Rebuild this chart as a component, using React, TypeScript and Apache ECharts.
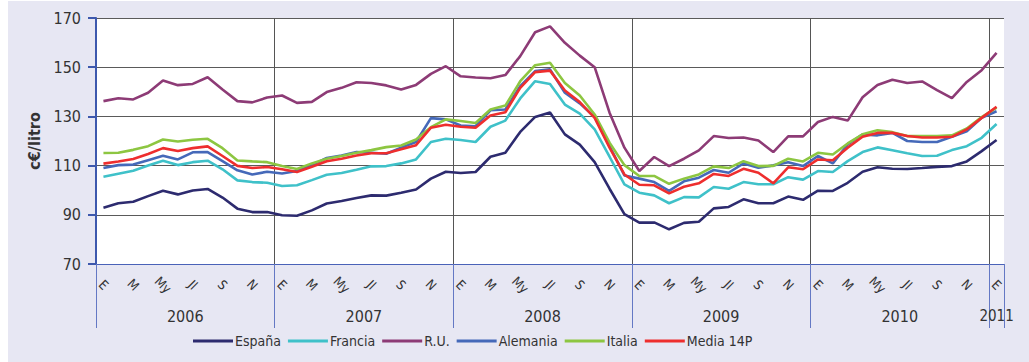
import React, { useEffect, useRef } from "react";
import * as echarts from "echarts";

const years = ["2006", "2007", "2008", "2009", "2010", "2011"];
const monthCodes = ["E", "F", "M", "A", "My", "Jn", "Jl", "Ag", "S", "O", "N", "D"];
const yTicks = { min: 70, max: 170, interval: 20 };

const espana = [
  92.9, 94.7, 95.3, 97.6, 99.8, 98.3, 99.9, 100.5, 97.0, 92.5, 91.1, 91.1,
  89.8, 89.6, 91.8, 94.6, 95.6, 96.8, 97.9, 97.8, 99.0, 100.3, 104.7, 107.5,
  107.0, 107.4, 113.6, 115.2, 123.7, 129.8, 131.6, 122.7, 118.5, 111.4, 100.6, 90.3,
  86.8, 86.9, 84.1, 86.7, 87.2, 92.6, 93.2, 96.3, 94.7, 94.7, 97.4, 96.1,
  99.8, 99.7, 103.0, 107.5, 109.3, 108.7, 108.6, 109.0, 109.5, 109.8, 111.7, 115.9, 120.4,
];
const francia = [
  105.5, 106.7, 107.9, 110.0, 112.0, 110.2, 111.4, 112.0, 108.5, 104.0, 103.3, 103.0,
  101.7, 102.0, 104.1, 106.3, 107.0, 108.3, 109.7, 109.8, 110.9, 112.5, 119.6, 120.9,
  120.4, 119.6, 125.8, 128.3, 137.3, 144.3, 143.2, 134.8, 131.1, 124.7, 113.6, 102.4,
  99.0, 97.9, 94.7, 97.2, 97.1, 101.3, 100.6, 103.3, 102.4, 102.4, 105.3, 104.3,
  107.8, 107.4, 111.8, 115.5, 117.4, 116.2, 115.0, 113.9, 114.0, 116.3, 117.9, 121.3, 126.9,
];
const reinoUnido = [
  136.2, 137.4, 136.9, 139.6, 144.6, 142.7, 143.2, 145.9, 140.9, 136.2, 135.7, 137.7,
  138.5, 135.5, 135.9, 139.9, 141.6, 143.9, 143.6, 142.6, 140.9, 142.8, 147.3, 150.4,
  146.3, 145.8, 145.5, 146.8, 154.5, 164.2, 166.6, 159.9, 154.7, 150.0, 131.5, 117.3,
  107.8, 113.5, 109.8, 112.8, 116.2, 122.0, 121.2, 121.4, 120.2, 115.5, 121.9, 121.9,
  127.7, 129.8, 128.3, 137.8, 142.8, 144.9, 143.6, 144.2, 140.7, 137.4, 144.0, 148.8, 155.8,
];
const alemania = [
  109.0, 110.2, 110.4, 112.2, 114.0, 112.5, 115.4, 115.5, 111.8, 108.1, 106.4, 107.5,
  106.8, 107.8, 110.2, 113.1, 114.1, 115.5, 115.2, 114.8, 117.3, 119.6, 129.3, 128.8,
  126.3, 126.0, 132.5, 132.8, 142.3, 148.4, 149.1, 139.6, 135.3, 129.7, 117.9, 106.0,
  104.7, 103.3, 99.7, 103.6, 105.1, 108.2, 107.1, 110.9, 109.1, 110.1, 111.4, 109.8,
  113.9, 110.9, 118.6, 122.7, 122.3, 123.3, 120.0, 119.6, 119.6, 121.7, 124.0, 129.4, 132.1,
];
const italia = [
  115.1, 115.2, 116.4, 117.9, 120.6, 119.8, 120.5, 120.9, 117.1, 112.1, 111.7, 111.4,
  109.8, 108.6, 110.9, 112.8, 113.9, 115.2, 116.3, 117.5, 118.2, 120.6, 125.6, 128.8,
  128.1, 127.3, 132.8, 134.4, 144.3, 150.8, 151.8, 143.6, 138.5, 130.8, 119.3, 110.2,
  105.8, 105.8, 102.6, 104.7, 106.4, 109.7, 109.0, 111.8, 109.8, 109.9, 112.8, 111.7,
  115.2, 114.5, 119.0, 122.7, 124.4, 123.6, 122.0, 122.0, 122.0, 122.3, 125.1, 129.7, 133.6,
];
const media14P = [
  110.8, 111.7, 112.7, 114.7, 117.1, 115.9, 117.1, 117.8, 113.9, 109.9, 109.0, 109.4,
  108.5, 107.4, 109.5, 111.8, 112.8, 114.1, 115.0, 115.0, 116.6, 118.3, 125.4, 126.6,
  125.8, 125.4, 130.4, 131.7, 141.6, 148.0, 148.6, 140.5, 135.8, 129.4, 117.3, 106.4,
  102.2, 102.0, 98.7, 101.4, 102.8, 106.6, 105.8, 108.7, 107.1, 102.8, 109.3, 108.5,
  112.5, 112.2, 117.3, 121.7, 123.3, 123.3, 122.0, 121.4, 121.4, 121.7, 124.7, 129.4, 133.9,
];

const seriesNames = ["España", "Francia", "R.U.", "Alemania", "Italia", "Media 14P"];
const seriesColors = ["#2d2b6f", "#3fc1c9", "#8d3b76", "#4569b9", "#8dc641", "#ee2e2e"];
const seriesData = [espana, francia, reinoUnido, alemania, italia, media14P];

const categories: string[] = [];
years.forEach((y) => {
  monthCodes.forEach((m) => {
    if (categories.length < espana.length) categories.push(m + "|" + y);
  });
});

const FONT = '"Liberation Sans Narrow", "DejaVu Sans Condensed", "Roboto Condensed", "Open Sans", sans-serif';
const TXT = "#333";
const BLUE = "#3d58ad";

export default function App() {
  const ref = useRef<HTMLDivElement>(null);
  useEffect(() => {
    if (!ref.current) return;
    const chart = echarts.init(ref.current, null, { renderer: "svg" });
    const yearBoundary = (i: number) => i % 12 === 0;
    chart.setOption({
      animation: false,
      backgroundColor: "#e7e7f3",
      textStyle: { fontFamily: FONT },
      grid: {
        left: 88,
        right: 25,
        top: 17,
        bottom: 98,
        show: true,
        backgroundColor: "#ffffff",
        borderWidth: 0,
      },
      legend: {
        left: 180,
        bottom: 9,
        icon: "rect",
        itemWidth: 40,
        itemHeight: 3,
        itemGap: 7,
        textStyle: { fontFamily: FONT, fontSize: 14, color: TXT, padding: [0, 0, 0, -3] },
        data: seriesNames,
      },
      xAxis: [
        {
          type: "category",
          position: "bottom",
          data: categories,
          boundaryGap: true,
          axisLine: { show: true, lineStyle: { color: "#4a62b8", width: 1 } },
          axisTick: {
            show: true,
            interval: yearBoundary,
            length: 64,
            lineStyle: { color: "#6478c4", width: 1 },
          },
          splitLine: {
            show: true,
            interval: yearBoundary,
            showMinLine: false,
            showMaxLine: false,
            lineStyle: { color: "#555", width: 1 },
          },
          axisLabel: {
            interval: 1,
            rotate: -45,
            align: "center",
            verticalAlign: "middle",
            margin: 21,
            fontSize: 13,
            color: TXT,
            fontFamily: FONT,
            formatter: (v: string) => v.split("|")[0],
          },
        },
        {
          type: "category",
          position: "bottom",
          data: categories,
          boundaryGap: true,
          axisLine: { show: false },
          axisTick: { show: false },
          splitLine: { show: false },
          axisLabel: {
            interval: 0,
            margin: 52,
            verticalAlign: "middle",
            align: "center",
            color: TXT,
            fontSize: 16,
            fontFamily: FONT,
            formatter: (v: string, i: number) => {
              const [m, y] = v.split("|");
              if (i === categories.length - 1 && m === "E") return "{b|" + y + "}";
              if (m === "Jl") return "{a|" + y + "}";
              return "";
            },
            rich: {
              a: { fontSize: 16, color: TXT, fontFamily: FONT, padding: [0, 15, 0, 0] },
              b: { fontSize: 15, color: TXT, fontFamily: FONT },
            },
          },
        },
      ],
      yAxis: {
        type: "value",
        min: yTicks.min,
        max: yTicks.max,
        interval: yTicks.interval,
        name: "c€/litro",
        nameLocation: "middle",
        nameGap: 50,
        nameTextStyle: { fontFamily: FONT, fontSize: 16, fontWeight: "bold", color: TXT },
        axisLine: { show: true, lineStyle: { color: BLUE, width: 2 } },
        axisTick: { show: true, length: 8, lineStyle: { color: BLUE, width: 2 } },
        axisLabel: { margin: 15, fontSize: 16, color: TXT, fontFamily: FONT },
        splitLine: { show: true, lineStyle: { color: "#5a5a5a", width: 1 } },
      },
      series: seriesNames.map((name, k) => ({
        name,
        type: "line",
        xAxisIndex: 0,
        data: seriesData[k],
        symbol: "none",
        smooth: false,
        color: seriesColors[k],
        lineStyle: { width: 2.6, color: seriesColors[k] },
      })),
    });
    return () => chart.dispose();
  }, []);
  return (
    <div
      ref={ref}
      style={{ position: "fixed", left: 8, top: 1, width: 1021, height: 361 }}
    />
  );
}
